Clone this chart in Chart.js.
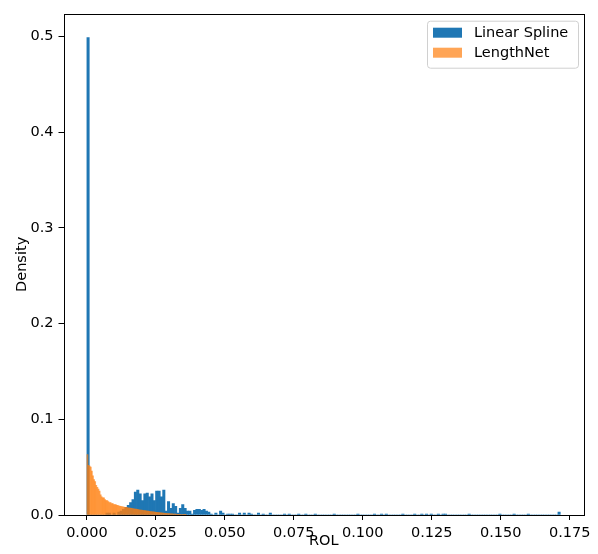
<!DOCTYPE html>
<html>
<head>
<meta charset="utf-8">
<script src="https://cdn.jsdelivr.net/npm/chart.js@4.4.1/dist/chart.umd.min.js"></script>
<style>
  html, body { margin: 0; padding: 0; background: #fff; }
  #wrap { width: 598px; height: 554px; }
</style>
</head>
<body>
<div id="wrap"><canvas id="chart" width="598" height="554"></canvas></div>
<script>
// --- DATA ---
const seriesNames = ['Linear Spline', 'LengthNet'];

// Linear Spline: 200 bins starting at 0
const splineBinWidth = 0.000858;
const splineDensity = [
  0.4988, 0, 0, 0, 0, 0, 0, 0, 0.002, 0.002, 0, 0.002, 0, 0.003, 0.004, 0.006, 0.008, 0.010, 0.013, 0.016,
  0.024, 0.026, 0.022, 0.015, 0.022, 0.023, 0.019, 0.022, 0.015, 0.025, 0.025, 0.019, 0.026, 0.004, 0.014, 0.007, 0.012, 0.009, 0.002, 0.007,
  0.011, 0.007, 0.004, 0.004, 0.001, 0.005, 0.006, 0.006, 0.005, 0.006, 0.004, 0.003, 0.001, 0, 0.002, 0, 0.004, 0.002, 0, 0.001,
  0.001, 0.001, 0, 0, 0.002, 0, 0.002, 0, 0.002, 0.001, 0, 0, 0.002, 0, 0.001, 0, 0, 0.002, 0, 0,
  0, 0, 0, 0.001, 0, 0.001, 0, 0, 0, 0.001, 0, 0, 0.001, 0, 0, 0, 0.001, 0, 0, 0,
  0, 0, 0, 0, 0.001, 0, 0, 0, 0, 0, 0, 0, 0, 0, 0.001, 0, 0, 0, 0, 0,
  0, 0.001, 0, 0, 0.001, 0, 0.001, 0, 0, 0, 0, 0, 0, 0.001, 0, 0, 0, 0, 0.001, 0,
  0, 0.001, 0, 0.001, 0, 0.001, 0, 0, 0.001, 0, 0.001, 0.001, 0, 0, 0, 0, 0, 0, 0, 0,
  0, 0.001, 0, 0, 0, 0, 0, 0, 0, 0, 0, 0, 0, 0, 0.001, 0, 0, 0, 0, 0,
  0.001, 0, 0, 0, 0, 0, 0.001, 0, 0, 0, 0, 0, 0, 0, 0, 0, 0, 0, 0, 0.003
];

// LengthNet: finer bins starting at 0
const lengthNetBinWidth = 0.0004;
const lengthNetDensity = [
  0.063, 0.052, 0.051, 0.050, 0.046, 0.041, 0.037, 0.035, 0.031, 0.029,
  0.027, 0.025, 0.021, 0.019, 0.018, 0.018, 0.016, 0.015, 0.015, 0.014,
  0.013, 0.013, 0.012, 0.012, 0.011, 0.011, 0.0105, 0.010, 0.0098, 0.0094,
  0.009, 0.0088, 0.0086, 0.0083, 0.008, 0.0081, 0.0077, 0.0075, 0.0072, 0.0073,
  0.0069, 0.0068, 0.0065, 0.0063, 0.0061, 0.0059, 0.0057, 0.0055, 0.0052, 0.0051,
  0.0049, 0.0047, 0.0046, 0.0043, 0.0042, 0.0040, 0.0038, 0.0037, 0.0035, 0.0033,
  0.0032, 0.0030, 0.0029, 0.0027, 0.0026, 0.0025, 0.0023, 0.0022, 0.0021, 0.0019,
  0.0018, 0.0017, 0.0016, 0.0015, 0.0014, 0.0013, 0.0012, 0.0011, 0.0010, 0.0009,
  0.0009, 0.0008, 0.0007, 0.0007, 0.0006, 0.0005, 0.0005, 0.0004, 0.0004, 0.0003
];

const xTicks = [0, 0.025, 0.05, 0.075, 0.1, 0.125, 0.15, 0.175];
const yTicks = [0, 0.1, 0.2, 0.3, 0.4, 0.5];

// --- CONFIG ---
const X_MIN = -0.00848, X_MAX = 0.1802;
const Y_MAX = 0.5237;
const FONT = 'DejaVu Sans';
const FONT_SIZE = 14.5;
const BLUE = '#1f77b4';
const ORANGE = 'rgba(255, 127, 14, 0.7)';

const toBars = (density, width) => density.map((y, i) => ({ x: (i + 0.5) * width, y }));

// all four spines, matplotlib style
const frame = {
  id: 'frame',
  afterDatasetsDraw(chart) {
    const { left, right, top, bottom } = chart.chartArea;
    const ctx = chart.ctx;
    ctx.save();
    ctx.strokeStyle = '#000';
    ctx.lineWidth = 1;
    ctx.strokeRect(Math.round(left) + 0.5, Math.round(top) + 0.5,
      Math.round(right - left) - 1, Math.round(bottom - top));
    ctx.restore();
  }
};

// legend box in the upper right corner
const boxLegend = {
  id: 'boxLegend',
  afterDraw(chart) {
    const ctx = chart.ctx;
    const { right, top } = chart.chartArea;
    const w = 151, h = 47;
    const x0 = right - 6 - w, y0 = top + 7;
    ctx.save();
    ctx.beginPath();
    ctx.roundRect(x0 + 0.5, y0 + 0.5, w, h, 3);
    ctx.fillStyle = 'rgba(255,255,255,0.8)';
    ctx.fill();
    ctx.strokeStyle = '#d0d0d0';
    ctx.lineWidth = 1;
    ctx.stroke();
    ctx.font = FONT_SIZE + 'px "' + FONT + '"';
    ctx.textBaseline = 'middle';
    chart.data.datasets.forEach((ds, i) => {
      const cy = y0 + 12 + i * 20;
      ctx.fillStyle = ds.backgroundColor;
      ctx.fillRect(x0 + 6, cy - 5, 29, 10);
      ctx.fillStyle = '#000';
      ctx.fillText(ds.label, x0 + 47, cy + 1);
    });
    ctx.restore();
  }
};

const xAxis = (display) => ({
  type: 'linear',
  display,
  min: X_MIN,
  max: X_MAX,
  offset: false,
  afterBuildTicks: (scale) => { scale.ticks = xTicks.map(v => ({ value: v })); },
  afterFit: (scale) => { scale.height = display ? 39 : 0; },
  grid: { display, offset: false, drawOnChartArea: false, drawTicks: true, tickLength: 5, color: '#000' },
  border: { display: false },
  ticks: {
    display,
    color: '#000',
    font: { family: FONT, size: FONT_SIZE },
    padding: 5,
    maxRotation: 0,
    autoSkip: false,
    callback: (v) => v.toFixed(3)
  },
  title: { display, text: 'ROL', color: '#000', font: { family: FONT, size: FONT_SIZE }, padding: { top: 0, bottom: 4 } }
});

new Chart(document.getElementById('chart'), {
  type: 'bar',
  data: {
    datasets: [
      {
        label: seriesNames[0],
        data: toBars(splineDensity, splineBinWidth),
        backgroundColor: BLUE,
        borderWidth: 0,
        xAxisID: 'x',
        order: 2,
        grouped: false,
        barPercentage: 1,
        categoryPercentage: 1
      },
      {
        label: seriesNames[1],
        data: toBars(lengthNetDensity, lengthNetBinWidth),
        backgroundColor: ORANGE,
        borderWidth: 0,
        xAxisID: 'x2',
        order: 1,
        grouped: false,
        barPercentage: 1,
        categoryPercentage: 1
      }
    ]
  },
  options: {
    responsive: false,
    animation: false,
    events: [],
    devicePixelRatio: 1,
    layout: { padding: { top: 6, right: 14, left: 0, bottom: 0 } },
    plugins: { legend: { display: false }, tooltip: { enabled: false } },
    scales: {
      x: xAxis(true),
      x2: xAxis(false),
      y: {
        type: 'linear',
        min: 0,
        max: Y_MAX,
        afterBuildTicks: (scale) => { scale.ticks = yTicks.map(v => ({ value: v })); },
        afterFit: (scale) => { scale.width = 63.5; },
        grid: { drawOnChartArea: false, drawTicks: true, tickLength: 5, color: '#000' },
        border: { display: false },
        ticks: {
          color: '#000',
          font: { family: FONT, size: FONT_SIZE },
          padding: 5,
          callback: (v) => v.toFixed(1)
        },
        title: { display: true, text: 'Density', color: '#000', font: { family: FONT, size: FONT_SIZE }, padding: { top: 14, bottom: 0 } }
      }
    }
  },
  plugins: [frame, boxLegend]
});
</script>
</body>
</html>
